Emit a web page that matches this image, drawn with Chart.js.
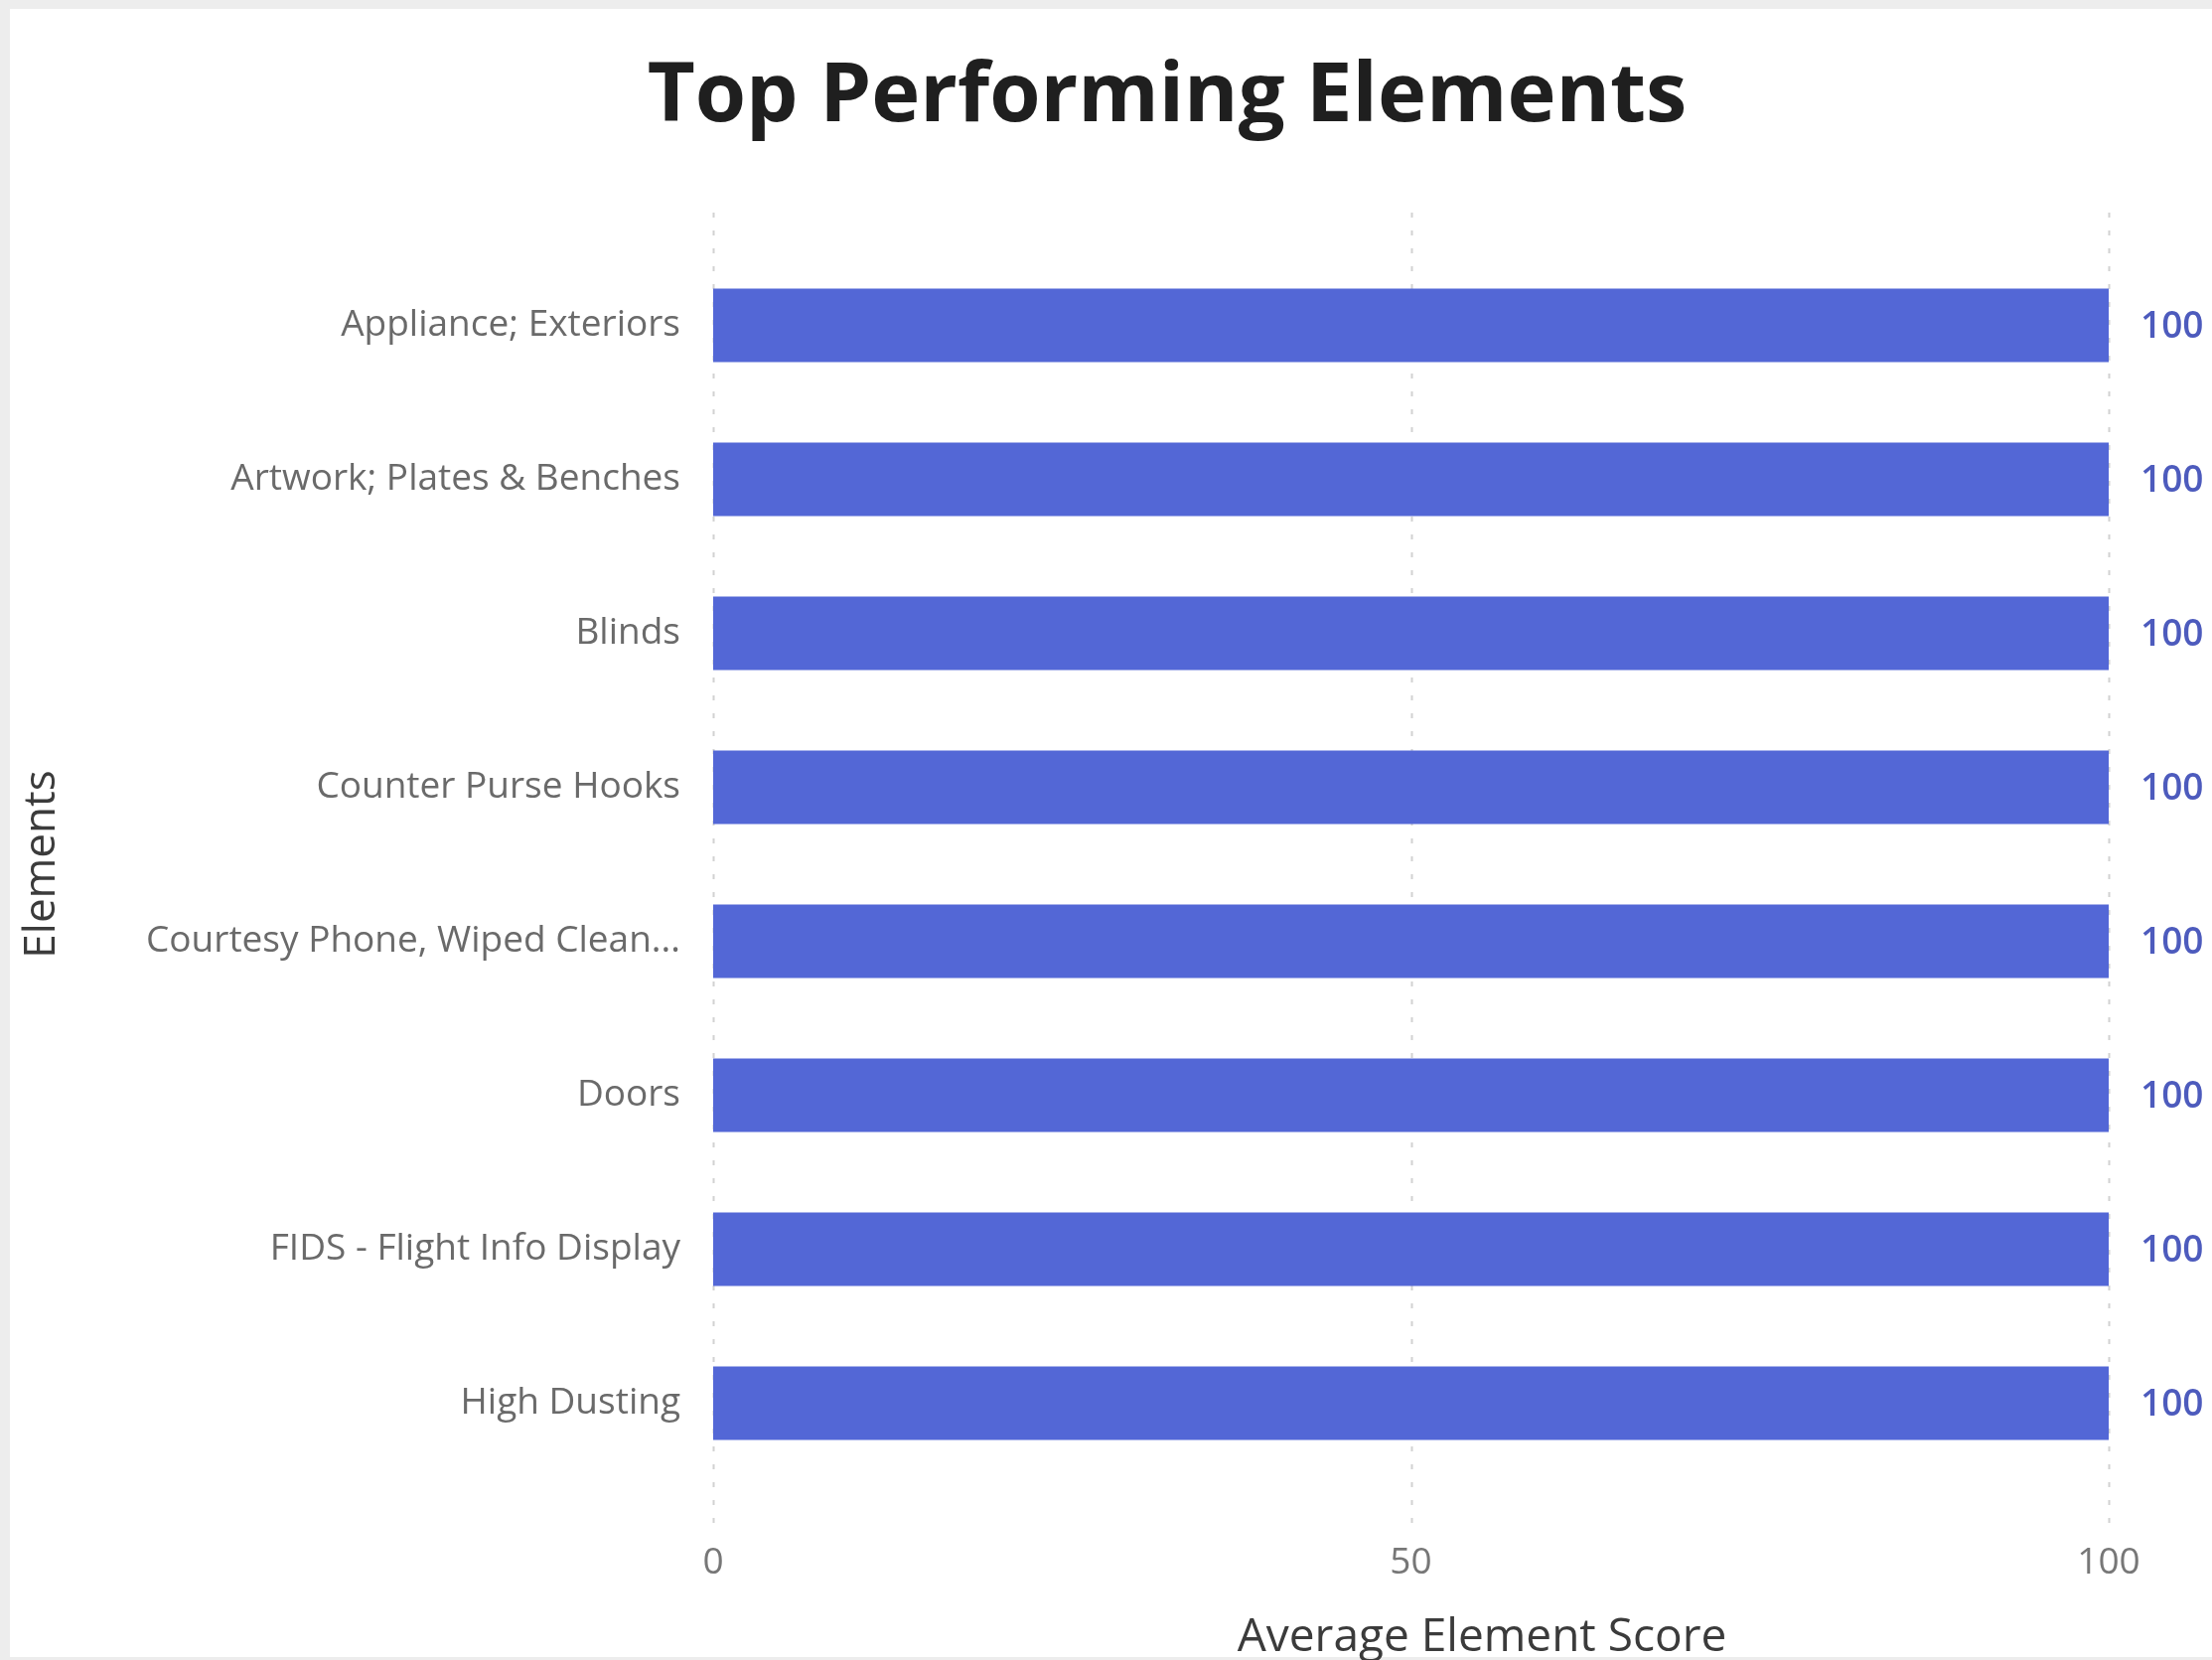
<!DOCTYPE html>
<html>
<head>
<meta charset="utf-8">
<title>Top Performing Elements</title>
<script src="https://cdn.jsdelivr.net/npm/chart.js@4.4.1/dist/chart.umd.min.js"></script>
<style>
  html, body { margin: 0; padding: 0; background: #ededed; }
  #wrap { position: absolute; left: 0; top: 0; width: 2227px; height: 1671px; }
</style>
</head>
<body>
<div id="wrap"><canvas id="chart"></canvas></div>
<script>
const elements = [
  "Appliance; Exteriors",
  "Artwork; Plates & Benches",
  "Blinds",
  "Counter Purse Hooks",
  "Courtesy Phone, Wiped Clean...",
  "Doors",
  "FIDS - Flight Info Display",
  "High Dusting",
];
const scores = [100, 100, 100, 100, 100, 100, 100, 100];
const scoreTicks = [0, 50, 100];

const chartTitle = "Top Performing Elements";
const xTitle = "Average Element Score";
const yTitle = "Elements";

const FONT = "'Open Sans', 'Noto Sans', sans-serif";
const BAR_COLOR = "#5367d6";

// white report panel sitting on the grey page
const panelPlugin = {
  id: "panel",
  beforeDraw(chart) {
    const { ctx, width, height } = chart;
    ctx.save();
    ctx.fillStyle = "#ededed";
    ctx.fillRect(0, 0, width, height);
    ctx.fillStyle = "#ffffff";
    ctx.fillRect(10, 9, width - 10, height - 12);
    ctx.restore();
  },
};

// dotted vertical gridlines, running a bit past the bars
const gridPlugin = {
  id: "dottedGrid",
  beforeDatasetsDraw(chart) {
    const { ctx } = chart;
    const x = chart.scales.x;
    ctx.save();
    ctx.strokeStyle = "#d2d2d2";
    ctx.lineWidth = 2;
    ctx.setLineDash([5, 13]);
    scoreTicks.forEach((v) => {
      const px = Math.round(x.getPixelForValue(v)) + 0.5;
      ctx.beginPath();
      ctx.moveTo(px, 214);
      ctx.lineTo(px, 1540);
      ctx.stroke();
    });
    ctx.restore();
  },
};

// value labels at the end of each bar, plus the title and x axis title
const labelPlugin = {
  id: "labels",
  afterDatasetsDraw(chart) {
    const { ctx } = chart;
    const meta = chart.getDatasetMeta(0);
    ctx.save();
    ctx.font = `600 37px ${FONT}`;
    ctx.fillStyle = "#4d5bbd";
    ctx.textAlign = "left";
    ctx.textBaseline = "middle";
    meta.data.forEach((bar, i) => {
      ctx.fillText(String(scores[i]), bar.x + 32, bar.y + 2);
    });

    ctx.font = `700 83px ${FONT}`;
    ctx.fillStyle = "#1f1f1f";
    ctx.textAlign = "center";
    ctx.textBaseline = "alphabetic";
    ctx.fillText(chartTitle, 1175, 122);

    ctx.font = `400 46px ${FONT}`;
    ctx.fillStyle = "#3b3b3b";
    ctx.fillText(xTitle, 1492, 1662);
    ctx.restore();
  },
};

new Chart(document.getElementById("chart"), {
  type: "bar",
  data: {
    labels: elements,
    datasets: [
      {
        data: scores,
        backgroundColor: BAR_COLOR,
        borderWidth: 0,
        categoryPercentage: 1,
        barPercentage: 0.477,
      },
    ],
  },
  options: {
    indexAxis: "y",
    responsive: true,
    maintainAspectRatio: false,
    animation: false,
    layout: { padding: { top: 250, right: 104, bottom: 0, left: 0 } },
    plugins: {
      legend: { display: false },
      tooltip: { enabled: false },
    },
    scales: {
      x: {
        min: 0,
        max: 100,
        afterBuildTicks: (s) => {
          s.ticks = scoreTicks.map((v) => ({ value: v }));
        },
        afterFit: (s) => {
          s.height = 181;
        },
        grid: { display: false, drawTicks: false },
        border: { display: false },
        ticks: {
          padding: 61,
          color: "#777777",
          font: { family: FONT, size: 37 },
        },
      },
      y: {
        afterFit: (s) => {
          s.width = 718;
        },
        grid: { display: false, drawTicks: false },
        border: { display: false },
        ticks: {
          autoSkip: false,
          padding: 33,
          color: "#6a6a6a",
          font: { family: FONT, size: 37 },
        },
        title: {
          display: true,
          text: yTitle,
          color: "#3b3b3b",
          font: { family: FONT, size: 44 },
          padding: { top: 16, bottom: 0 },
        },
      },
    },
  },
  plugins: [panelPlugin, gridPlugin, labelPlugin],
});
</script>
</body>
</html>
